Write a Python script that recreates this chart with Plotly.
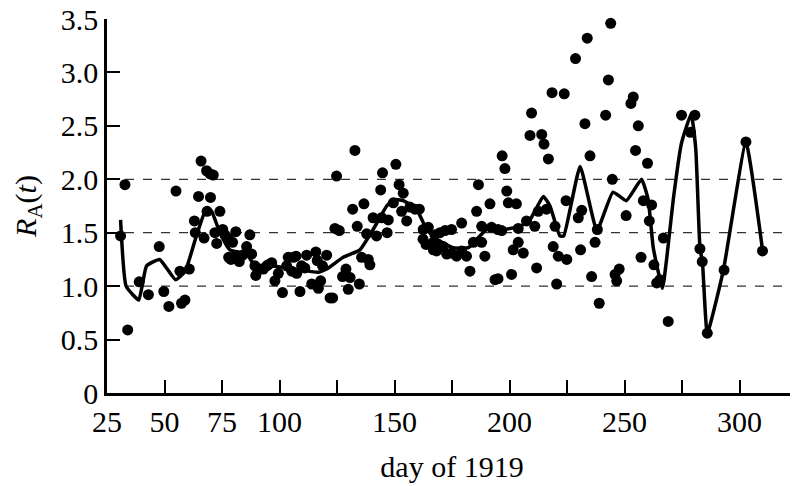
import plotly.graph_objects as go

# daily estimates of R_A(t)
point_days = [
    30.9, 32.8, 34.0, 39.0, 43.0, 47.7, 49.7, 51.9, 55.0, 56.7, 57.4, 58.9,
    60.8, 63.0, 63.4, 64.8, 65.9, 67.2, 68.3, 68.5, 69.8, 70.0, 71.2, 71.9,
    72.7, 74.1, 75.3, 76.3, 77.7, 77.9, 78.9, 79.6, 80.7, 81.0, 82.5, 84.0,
    85.7, 87.1, 87.9, 89.3, 89.7, 91.5, 93.0, 94.4, 95.1, 96.6, 98.0, 99.5,
    101.3, 103.1, 103.8, 105.3, 106.0, 107.2, 107.5, 108.9, 109.6, 111.0, 111.8, 114.0,
    115.8, 116.4, 116.9, 117.9, 118.7, 120.5, 122.0, 123.1, 124.1, 124.8, 126.0, 127.4,
    128.9, 129.9, 130.7, 131.8, 132.8, 133.8, 134.7, 135.7, 136.7, 137.9, 138.6, 139.3,
    140.7, 142.2, 144.0, 144.4, 144.8, 146.8, 147.3, 149.5, 150.6, 152.0, 153.1, 153.8,
    155.3, 156.7, 158.9, 160.8, 162.4, 162.5, 163.7, 164.7, 166.9, 166.9, 167.6, 168.3,
    169.0, 169.8, 171.2, 172.0, 172.7, 174.8, 174.8, 177.0, 179.2, 179.2, 181.3, 182.8,
    184.3, 185.7, 186.5, 187.9, 187.9, 189.3, 191.5, 192.2, 193.7, 195.0, 195.0, 196.6,
    196.8, 198.0, 198.8, 199.5, 200.9, 201.6, 203.0, 203.8, 203.8, 206.0, 207.4, 208.9,
    209.6, 211.0, 211.8, 212.5, 214.0, 215.0, 216.1, 216.9, 218.5, 219.0, 219.8, 220.5,
    221.2, 223.8, 224.6, 224.9, 228.7, 229.9, 230.9, 231.4, 232.8, 233.8, 235.0, 235.7,
    237.2, 238.2, 239.0, 241.8, 243.0, 244.0, 244.7, 245.9, 246.6, 247.7, 250.7, 252.8,
    253.8, 254.8, 256.0, 257.2, 258.2, 260.0, 260.8, 261.8, 262.8, 264.0, 265.4, 266.9,
    269.0, 274.8, 278.7, 280.6, 282.8, 283.8, 286.0, 293.3, 302.8, 310.0,
]
point_values = [
    1.47, 1.95, 0.59, 1.04, 0.92, 1.37, 0.95, 0.81, 1.89, 1.14, 0.84, 0.87,
    1.16, 1.61, 1.50, 1.84, 2.17, 1.45, 2.08, 1.70, 2.05, 1.83, 2.04, 1.50,
    1.40, 1.70, 1.53, 1.48, 1.45, 1.27, 1.25, 1.41, 1.28, 1.51, 1.23, 1.29,
    1.37, 1.48, 1.30, 1.19, 1.10, 1.16, 1.16, 1.19, 1.20, 1.22, 1.05, 1.12,
    0.94, 1.19, 1.27, 1.14, 1.27, 1.28, 1.12, 0.95, 1.19, 1.17, 1.29, 1.02,
    1.32, 1.24, 0.98, 1.05, 1.19, 1.29, 0.89, 0.89, 1.54, 2.03, 1.52, 1.09,
    1.16, 0.97, 1.08, 1.72, 2.27, 1.56, 1.02, 1.27, 1.77, 1.49, 1.25, 1.20,
    1.64, 1.47, 1.90, 1.64, 2.06, 1.50, 1.62, 1.78, 2.14, 1.95, 1.70, 1.87,
    1.61, 1.74, 1.72, 1.72, 1.44, 1.53, 1.39, 1.55, 1.41, 1.34, 1.48, 1.33,
    1.39, 1.50, 1.37, 1.52, 1.30, 1.53, 1.31, 1.28, 1.33, 1.59, 1.28, 1.14,
    1.41, 1.70, 1.95, 1.41, 1.56, 1.28, 1.77, 1.55, 1.06, 1.53, 1.07, 1.52,
    2.22, 2.10, 1.89, 1.78, 1.11, 1.34, 1.77, 1.41, 1.54, 1.31, 1.61, 2.41,
    2.62, 1.56, 1.17, 1.70, 2.42, 2.33, 1.72, 2.19, 2.81, 1.37, 1.56, 1.02,
    1.28, 2.80, 1.80, 1.25, 3.13, 1.64, 1.34, 1.71, 2.52, 3.32, 2.22, 1.09,
    1.41, 1.53, 0.84, 2.60, 2.93, 3.46, 2.00, 1.11, 1.05, 1.16, 1.66, 2.71,
    2.77, 2.27, 2.50, 1.27, 1.80, 2.15, 1.61, 1.76, 1.20, 1.03, 1.06, 1.45,
    0.67, 2.60, 2.44, 2.60, 1.35, 1.23, 0.56, 1.15, 2.35, 1.33,
]

# smoothed curve
smooth_days = [
    30.9, 33.3, 38.8, 42.2, 47.9, 54.8, 59.0, 64.0, 68.3, 70.5, 74.1, 78.4,
    85.7, 90.0, 95.9, 106.0, 116.9, 120.5, 127.7, 135.0, 140.7, 146.6, 149.5, 153.8,
    159.6, 164.0, 168.3, 175.6, 182.1, 190.0, 197.3, 204.6, 208.9, 214.7, 217.6, 221.9,
    223.6, 230.7, 238.0, 245.0, 250.8, 257.4, 260.3, 262.5, 266.5, 268.3, 271.2, 274.8,
    279.0, 281.0, 282.8, 283.9, 286.0, 293.0, 302.8, 310.0,
]
smooth_values = [
    1.62, 1.00, 0.87, 1.19, 1.25, 1.06, 1.14, 1.48, 1.73, 1.70, 1.50, 1.34,
    1.30, 1.17, 1.19, 1.16, 1.13, 1.16, 1.27, 1.34, 1.53, 1.75, 1.81, 1.80,
    1.72, 1.53, 1.44, 1.36, 1.36, 1.53, 1.53, 1.56, 1.62, 1.84, 1.75, 1.47,
    1.47, 2.12, 1.52, 1.88, 1.80, 2.00, 1.81, 1.36, 0.98, 1.25, 1.81, 2.34,
    2.61, 2.28, 1.36, 1.22, 0.56, 1.15, 2.34, 1.34,
]

ref_levels = [1.0, 1.5, 2.0]
x_ticks = [25, 50, 75, 100, 150, 200, 250, 300]
y_ticks = [0, 0.5, 1.0, 1.5, 2.0, 2.5, 3.0, 3.5]
y_labels = ['0', '0.5', '1.0', '1.5', '2.0', '2.5', '3.0', '3.5']

SERIF = "Liberation Serif, Times New Roman, serif"
FONT = dict(family=SERIF, size=30, color='black')

fig = go.Figure()

fig.add_trace(go.Scatter(
    x=point_days, y=point_values, mode='markers',
    marker=dict(color='black', size=11, line=dict(width=0)),
    showlegend=False, cliponaxis=False,
))
fig.add_trace(go.Scatter(
    x=smooth_days, y=smooth_values, mode='lines',
    line=dict(color='black', width=3.5, shape='spline', smoothing=0.4),
    showlegend=False,
))

for lvl in ref_levels:
    fig.add_hline(y=lvl, line=dict(color='#333333', width=1.2, dash='dash'), layer='below')

axis_common = dict(
    showline=True, linecolor='black', linewidth=2.5,
    ticks='inside', ticklen=13, tickwidth=2, tickcolor='black',
    showgrid=False, zeroline=False, mirror=False, automargin=False,
    ticklabeloverflow='allow', tickfont=FONT,
)

# page body adds an 8px offset, so the figure is sized 8px smaller
fig.update_layout(
    width=790, height=478,
    margin=dict(l=99, r=1, t=11, b=93),
    plot_bgcolor='white', paper_bgcolor='white',
    xaxis=dict(
        range=[25, 325], tickvals=x_ticks,
        minor=dict(tick0=25, dtick=25, ticks='inside', ticklen=13, tickwidth=2, tickcolor='black'),
        title=dict(text='day of 1919', font=FONT, standoff=20),
        **axis_common,
    ),
    yaxis=dict(
        range=[0, 3.5], tickvals=y_ticks, ticktext=y_labels,
        title=dict(text='<i>R</i><sub>A</sub>(<i>t</i>)', font=FONT, standoff=16),
        **axis_common,
    ),
)

fig.write_html("out.html")
